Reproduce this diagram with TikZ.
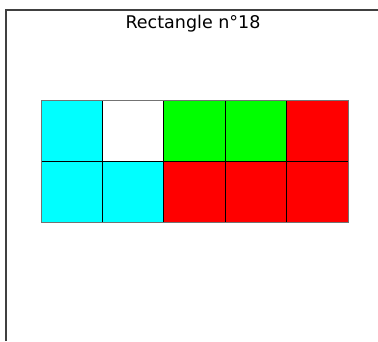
\documentclass[tikz,border=0pt]{standalone}
\usepackage{fontspec}
\setmainfont{DejaVu Sans}
\definecolor{cyanbox}{RGB}{0,255,255}
\definecolor{greenbox}{RGB}{0,255,0}
\definecolor{redbox}{RGB}{255,0,0}
\tikzset{
  cell/.style={draw=black, line width=0.8pt},
  frame/.style={draw=black!75, line width=1.6pt}
}
\begin{document}
\begin{tikzpicture}[x=1pt,y=-1pt]
    % Marco
    \useasboundingbox (0,0) rectangle (378,341);
    \draw[frame] (6,341) -- (6,10) -- (378,10);
    % Titulo
    \node[font=\fontsize{17.5}{20}\selectfont, anchor=base] (titulo) at (193,28) {Rectangle n°18};
    % Casillas
    \foreach \col [count=\i from 0] in {cyanbox,white,greenbox,greenbox,redbox}
        \filldraw[cell, fill=\col] (41+61.4*\i,100) rectangle ++(61.4,61);
    \foreach \col [count=\i from 0] in {cyanbox,cyanbox,redbox,redbox,redbox}
        \filldraw[cell, fill=\col] (41+61.4*\i,161) rectangle ++(61.4,61);
    \draw[draw=black!55, line width=1pt] (41,100) rectangle (348,222);
\end{tikzpicture}
\end{document}
